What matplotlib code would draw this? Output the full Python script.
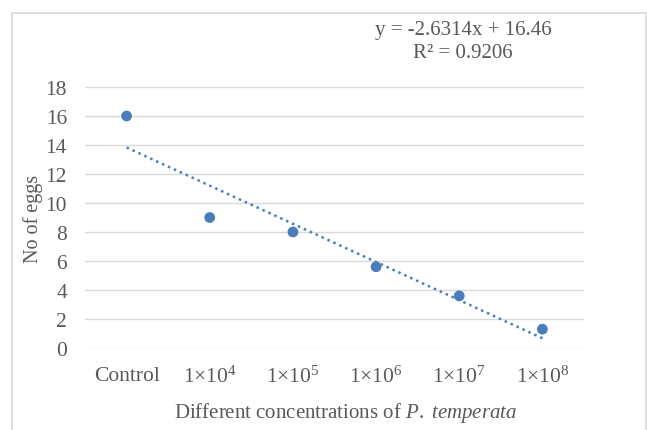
import matplotlib
matplotlib.use("Agg")
import matplotlib.pyplot as plt
from matplotlib.patches import Rectangle
import numpy as np

categories = ["Control", r"1×10$^{4}$", r"1×10$^{5}$", r"1×10$^{6}$", r"1×10$^{7}$", r"1×10$^{8}$"]
eggs = [16, 9, 8, 5.6, 3.6, 1.3]
slope = -2.6314
intercept = 16.46
r2 = 0.9206
yticks = [0, 2, 4, 6, 8, 10, 12, 14, 16, 18]

plt.rcParams['font.family'] = ['Liberation Serif', 'DejaVu Serif']
plt.rcParams['mathtext.fontset'] = 'custom'
plt.rcParams['mathtext.rm'] = 'Liberation Serif'
plt.rcParams['mathtext.it'] = 'Liberation Serif:italic'

W, H = 647, 431
fig = plt.figure(figsize=(W/100, H/100), dpi=100)
txt = '#595959'
blue = '#4a7ebb'

# chart border
fig.patches.append(Rectangle((12/W, -0.01), (646-12)/W, 1 - 14/H + 0.01,
                             transform=fig.transFigure, fill=False,
                             edgecolor='#d9d9d9', linewidth=1.2))

ax = fig.add_axes([85/W, 1-349/H, (584-85)/W, (349-88)/H])
x = np.arange(1, len(eggs)+1)
ax.scatter(x, eggs, s=60, color=blue, zorder=3, edgecolors='none')
ax.plot(x, slope*x + intercept, linestyle=(0, (1, 1.6)), color=blue, linewidth=1.8, zorder=2)

ax.set_xlim(0.5, 6.5)
ax.set_ylim(0, 18)
ax.set_yticks(yticks)
ax.set_xticks(x)
ax.set_xticklabels(categories)
ax.yaxis.grid(True, color='#d9d9d9', linewidth=1)
ax.set_axisbelow(True)
for s in ax.spines.values():
    s.set_visible(False)
ax.tick_params(axis='both', length=0, colors=txt, labelsize=15.5)
ax.tick_params(axis='x', pad=13)
ax.tick_params(axis='y', pad=13)

ax.set_ylabel("No of eggs", color=txt, fontsize=14.5, labelpad=2)
ax.set_xlabel(r"Different concentrations of $\it{P.\ temperata}$", color=txt, fontsize=15, labelpad=10)
ax.xaxis.set_label_coords(0.522, -0.2)

fig.text(463/W, 1-30/H, "y = -2.6314x + 16.46", ha='center', va='center', color=txt, fontsize=15)
fig.text(463/W, 1-53/H, "R² = 0.9206", ha='center', va='center', color=txt, fontsize=15)

fig.savefig("out.png", dpi=100)
